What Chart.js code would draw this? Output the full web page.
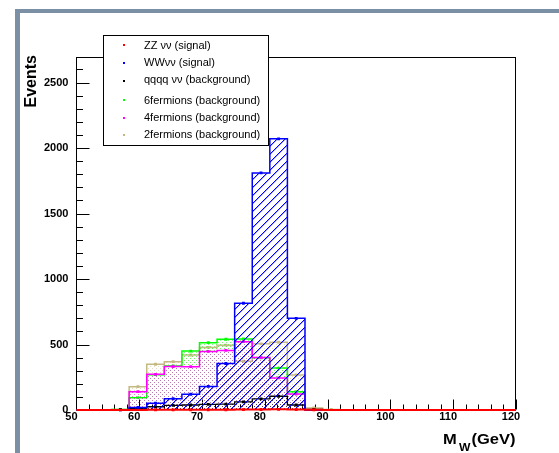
<!DOCTYPE html>
<html>
<head>
<meta charset="utf-8">
<script src="https://cdn.jsdelivr.net/npm/chart.js@4.4.1/dist/chart.umd.min.js"></script>
<style>
  html, body { margin: 0; padding: 0; background: #fff; overflow: hidden; }
  canvas { display: block; }
</style>
</head>
<body>
<canvas id="c" width="559" height="453"></canvas>
<script>
// Reconstructed W mass distribution: 25 bins of 2.8 GeV between 50 and 120 GeV.
const xMin = 50;
const xMax = 120;
const yMax = 2695;
const binLowEdges = [50, 52.8, 55.6, 58.4, 61.2, 64, 66.8, 69.6, 72.4, 75.2, 78, 80.8, 83.6,
                     86.4, 89.2, 92, 94.8, 97.6, 100.4, 103.2, 106, 108.8, 111.6, 114.4, 117.2];

// Events per bin for each sample
const zzSignal   = [0, 0, 0, 0, 1, 1, 1, 2, 2, 3, 4, 5, 4, 1, 0, 0, 0, 0, 0, 0, 0, 0, 0, 0, 0];
const wwSignal   = [0, 0, 0, 20, 52, 86, 120, 180, 355, 815, 1810, 2070, 700, 0, 0, 0, 0, 0, 0, 0, 0, 0, 0, 0, 0];
const qqqqBkg    = [0, 0, 2, 10, 25, 35, 38, 43, 45, 62, 85, 105, 38, 4, 0, 0, 0, 0, 0, 0, 0, 0, 0, 0, 0];
const sixFermBkg = [0, 0, 4, 94, 270, 336, 450, 514, 540, 542, 398, 320, 140, 0, 0, 0, 0, 0, 0, 0, 0, 0, 0, 0, 0];
const fourFermBkg= [0, 0, 2, 140, 272, 332, 331, 447, 455, 522, 400, 245, 122, 0, 0, 0, 0, 0, 0, 0, 0, 0, 0, 0, 0];
const twoFermBkg = [0, 0, 3, 178, 349, 369, 420, 478, 495, 372, 505, 517, 267, 15, 4, 0, 0, 0, 0, 0, 0, 0, 0, 0, 0];

const seriesLabels = ['ZZ \u03bd\u03bd (signal)', 'WW\u03bd\u03bd (signal)', 'qqqq \u03bd\u03bd (background)',
                      '6fermions (background)', '4fermions (background)', '2fermions (background)'];

// Axis ticks
const xTickValues = [50, 60, 70, 80, 90, 100, 110, 120];
const yTickValues = [0, 500, 1000, 1500, 2000, 2500];
const xMinorStep = 2;
const yMinorStep = 100;
const xAxisTitle = 'M', xAxisSub = 'W', xAxisUnit = '(GeV)';
const yAxisTitle = 'Events';

const FONT = "'Liberation Sans', Arial, Helvetica, sans-serif";
const colors = {
  zz: '#ff0000', ww: '#0000ff', qqqq: '#000000',
  six: '#00ff00', four: '#ff00ff', two: '#c4b982'
};

// Crisp 1px "/" hatching
function hatchPattern(color) {
  const n = 8;
  const t = document.createElement('canvas');
  t.width = n; t.height = n;
  const g = t.getContext('2d');
  g.fillStyle = color;
  for (let i = 0; i < n; i++) g.fillRect(i, n - 1 - i, 1, 1);
  g.globalAlpha = 0.35;
  for (let i = 0; i < n; i++) g.fillRect(i, (n - i) % n, 1, 1);
  return g.createPattern(t, 'repeat');
}
// Dotted fill; every sample uses the same dot grid, so later fills cover earlier ones
function dotPattern(color) {
  const t = document.createElement('canvas');
  t.width = 4; t.height = 4;
  const g = t.getContext('2d');
  g.fillStyle = color;
  g.globalAlpha = 0.5;
  g.fillRect(0, 0, 1, 1);
  g.fillRect(2, 2, 1, 1);
  return g.createPattern(t, 'repeat');
}

function stepPoints(values) {
  const pts = [{x: binLowEdges[0], y: 0}];
  values.forEach((v, i) => {
    const lo = binLowEdges[i];
    const hi = i + 1 < binLowEdges.length ? binLowEdges[i + 1] : xMax;
    pts.push({x: lo, y: v}, {x: hi, y: v});
  });
  pts.push({x: xMax, y: 0});
  return pts;
}
function centerPoints(values) {
  const pts = [];
  values.forEach((v, i) => {
    if (v <= 0) return;
    const lo = binLowEdges[i];
    const hi = i + 1 < binLowEdges.length ? binLowEdges[i + 1] : xMax;
    pts.push({x: (lo + hi) / 2, y: v});
  });
  return pts;
}

// order: higher values are painted first
const series = [
  {values: zzSignal,    color: colors.zz,   fillBg: null,                      width: 2,   order: 2},
  {values: wwSignal,    color: colors.ww,   fillBg: hatchPattern(colors.ww),   width: 1.5, order: 4},
  {values: qqqqBkg,     color: colors.qqqq, fillBg: dotPattern(colors.qqqq),   width: 1.3, order: 6},
  {values: sixFermBkg,  color: colors.six,  fillBg: dotPattern(colors.six),    width: 1.5, order: 10},
  {values: fourFermBkg, color: colors.four, fillBg: dotPattern(colors.four),   width: 1.5, order: 8},
  {values: twoFermBkg,  color: colors.two,  fillBg: dotPattern(colors.two),    width: 1.5, order: 12}
];

const datasets = [];
series.forEach((s, i) => {
  datasets.push({
    label: seriesLabels[i],
    data: stepPoints(s.values),
    borderColor: s.color,
    borderWidth: s.width,
    backgroundColor: s.fillBg || 'rgba(0,0,0,0)',
    fill: s.fillBg ? 'origin' : false,
    pointRadius: 0,
    tension: 0,
    clip: 3,
    order: s.order
  });
  datasets.push({
    label: seriesLabels[i] + ' markers',
    data: centerPoints(s.values),
    showLine: false,
    pointStyle: 'rect',
    pointRadius: 2,
    pointBorderWidth: 0,
    pointBackgroundColor: s.color,
    clip: 3,
    order: s.order - 1
  });
});

// Canvas frame, plot frame, tick marks, titles and legend
const decorations = {
  id: 'decorations',
  beforeDraw(chart) {
    const ctx = chart.ctx;
    ctx.save();
    ctx.fillStyle = '#ffffff';
    ctx.fillRect(0, 0, chart.width, chart.height);
    ctx.fillStyle = '#7b90a5';
    ctx.fillRect(15, 9, chart.width - 15, 4);
    ctx.fillRect(15, 9, 5, chart.height - 9);
    ctx.restore();
  },
  beforeDatasetsDraw(chart) {
    const {ctx, chartArea: a, scales: {x, y}} = chart;
    ctx.save();
    ctx.strokeStyle = '#000';
    ctx.lineWidth = 1;
    const L = Math.round(a.left) + 0.5, R = Math.round(a.right) - 0.5;
    const T = Math.round(a.top) + 0.5, B = Math.round(a.bottom) - 0.5;
    ctx.strokeRect(L, T, R - L, B - T);
    ctx.beginPath();
    for (let v = 0; v <= yMax; v += yMinorStep) {
      const py = Math.round(y.getPixelForValue(v)) + 0.5;
      const len = yTickValues.includes(v) ? 13 : 6.5;
      ctx.moveTo(L, py); ctx.lineTo(L + len, py);
    }
    for (let v = xMin; v <= xMax; v += xMinorStep) {
      const px = Math.round(x.getPixelForValue(v)) + 0.5;
      const len = xTickValues.includes(v) ? 10 : 5;
      ctx.moveTo(px, B); ctx.lineTo(px, B - len);
    }
    ctx.stroke();
    ctx.restore();
  },
  afterDraw(chart) {
    const ctx = chart.ctx;
    ctx.save();
    // y axis title
    ctx.fillStyle = '#000';
    ctx.font = 'bold 16px ' + FONT;
    ctx.translate(32, 55);
    ctx.rotate(-Math.PI / 2);
    ctx.textAlign = 'right';
    ctx.textBaseline = 'middle';
    ctx.fillText(yAxisTitle, 0, 0);
    ctx.restore();

    // x axis title
    ctx.save();
    ctx.fillStyle = '#000';
    ctx.textBaseline = 'alphabetic';
    ctx.textAlign = 'left';
    ctx.translate(443, 0);
    ctx.scale(1.1, 1);
    ctx.font = 'bold 15px ' + FONT;
    ctx.fillText(xAxisTitle, 0, 444);
    const mW = ctx.measureText(xAxisTitle).width;
    ctx.font = 'bold 11px ' + FONT;
    ctx.fillText(xAxisSub, mW + 2, 451);
    const wW = ctx.measureText(xAxisSub).width;
    ctx.font = 'bold 15px ' + FONT;
    ctx.fillText(xAxisUnit, mW + 2 + wW + 1, 444);
    ctx.restore();

    // legend
    ctx.save();
    ctx.fillStyle = '#fff';
    ctx.fillRect(103.5, 35.5, 165, 110);
    ctx.strokeStyle = '#000';
    ctx.lineWidth = 1;
    ctx.strokeRect(103.5, 35.5, 165, 110);
    const rows = [45.5, 62.5, 79.5, 101, 118, 134.5];
    const marks = [44.5, 62.5, 81, 100, 117.5, 135];
    ctx.font = '11px ' + FONT;
    ctx.textBaseline = 'middle';
    ctx.textAlign = 'left';
    series.forEach((s, i) => {
      ctx.fillStyle = s.color;
      ctx.fillRect(123, Math.round(marks[i]) - 1, 2, 2);
      ctx.fillStyle = '#000';
      ctx.fillText(seriesLabels[i], 144, rows[i]);
    });
    ctx.restore();
  }
};

const tickFont = {family: FONT, size: 11, weight: 'bold'};

new Chart(document.getElementById('c'), {
  type: 'line',
  data: {datasets},
  options: {
    responsive: false,
    animation: false,
    devicePixelRatio: 1,
    events: [],
    layout: {padding: {top: 57, right: 43, left: 0, bottom: 0}},
    plugins: {legend: {display: false}, tooltip: {enabled: false}, title: {display: false}},
    scales: {
      x: {
        type: 'linear', min: xMin, max: xMax,
        grid: {display: false, drawTicks: false},
        border: {display: false},
        afterBuildTicks(s) { s.ticks = xTickValues.map(v => ({value: v})); },
        ticks: {padding: 0, labelOffset: -5, color: '#000', font: tickFont,
                maxRotation: 0, autoSkip: false, callback: v => String(v)},
        afterFit(s) { s.height = 43; }
      },
      y: {
        type: 'linear', min: 0, max: yMax,
        grid: {display: false, drawTicks: false},
        border: {display: false},
        afterBuildTicks(s) { s.ticks = yTickValues.map(v => ({value: v})); },
        ticks: {padding: 8, color: '#000', font: tickFont, autoSkip: false, callback: v => String(v)},
        afterFit(s) { s.width = 76.4; }
      }
    }
  },
  plugins: [decorations]
});
</script>
</body>
</html>
